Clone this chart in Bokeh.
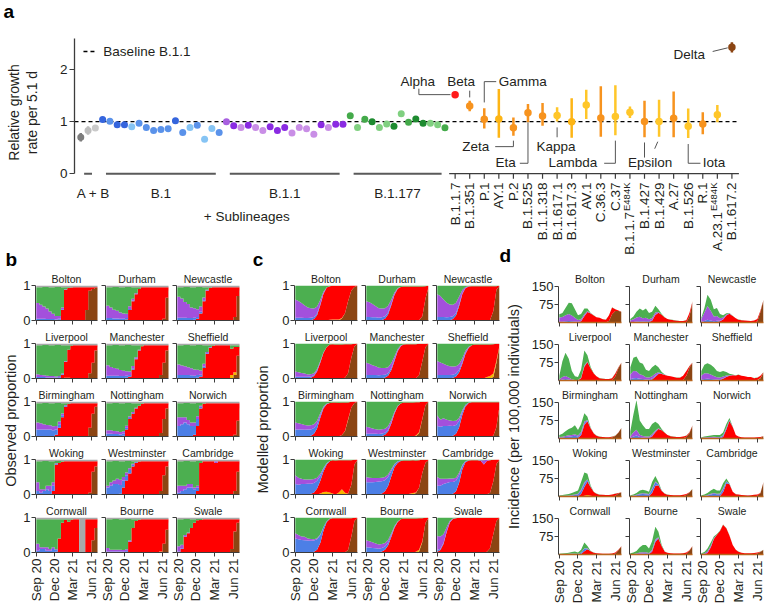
import math
import numpy as np
from bokeh.plotting import figure
from bokeh.models import ColumnDataSource, LabelSet, FixedTicker, Range1d
from bokeh.layouts import column, row
from bokeh.embed import file_html
from bokeh.resources import INLINE
from bokeh.core.properties import value

FONT = "Liberation Sans"
TXT = "#231f20"
AX = "#3c3c3c"

# ---------------- panel a data ----------------
SUB_GROUPS = ["A + B", "B.1", "B.1.1", "B.1.177"]
SUB_COUNTS = [3, 17, 17, 14]
SUB_GROWTH = [0.70, 0.83, 0.88,
              1.04, 1.01, 0.94, 0.94, 0.90, 0.97, 0.89, 0.83, 0.85, 0.865, 1.02, 0.79, 0.89, 0.93, 0.66, 0.87, 0.79,
              1.00, 0.92, 0.89, 0.93, 0.89, 0.83, 0.90, 0.83, 0.89, 0.78, 0.89, 0.865, 0.76, 0.94, 0.89, 0.95, 0.95,
              1.115, 0.89, 1.045, 1.00, 0.89, 0.955, 0.91, 1.15, 0.99, 1.05, 0.97, 0.97, 0.94, 0.885]
AB_ERR = [0.08, 0.08, 0.04]
SUB_SHADE = [0, 1, 2,
             0, 1, 0, 0, 2, 1, 1, 1, 1, 1, 0, 1, 2, 1, 2, 2, 1,
             1, 0, 2, 0, 2, 2, 0, 0, 0, 2, 2, 2, 2, 0, 2, 0, 0,
             1, 2, 1, 0, 2, 2, 0, 2, 1, 0, 0, 2, 2, 1]
GROUP_SHADES = [["#7d7d7d", "#bdbdbd", "#c9c9c9"],
                ["#3565dd", "#5a92ea", "#86c4f4"],
                ["#8a2be2", "#a860e0", "#c98ee6"],
                ["#1e8b30", "#44aa4a", "#80d080"]]

NAMED = ["B.1.1.7", "B.1.351", "P.1", "AY.1", "P.2", "B.1.525", "B.1.1.318", "B.1.617.1", "B.1.617.3", "AV.1",
         "C.36.3", "C.37", "B.1.1.7", "B.1.427", "B.1.429", "A.27", "B.1.526", "R.1", "A.23.1", "B.1.617.2"]
NAMED_SUP = ["", "", "", "", "", "", "", "", "", "", "", "", "E484K", "", "", "", "", "", "E484K", ""]
NAMED_GROWTH = [1.52, 1.30, 1.045, 1.05, 0.885, 1.17, 1.11, 1.12, 1.00, 1.32,
                1.07, 1.10, 1.18, 1.005, 1.005, 1.065, 0.91, 0.955, 1.135, 2.43]
NAMED_LO = [1.50, 1.20, 0.87, 0.69, 0.73, 0.99, 0.92, 1.005, 0.69, 1.05,
            0.71, 0.74, 1.07, 0.70, 0.71, 0.70, 0.685, 0.76, 0.99, 2.33]
NAMED_HI = [1.54, 1.40, 1.26, 1.63, 1.08, 1.34, 1.36, 1.275, 1.45, 1.615,
            1.68, 1.70, 1.29, 1.40, 1.42, 1.58, 1.255, 1.18, 1.32, 2.525]
NAMED_TONE = ["alpha", "orange", "orange", "gold", "orange", "orange", "orange", "yellow", "gold", "yellow",
              "orange", "yellow", "yellow", "orange", "yellow", "orange", "yellow", "orange", "yellow", "delta"]
TONE_COLOR = {"alpha": "#ff1a1a", "orange": "#f7931e", "gold": "#fdb515", "yellow": "#ffc629", "delta": "#8b4513"}

# ---------------- panels b-d data ----------------
CITIES = ["Bolton", "Durham", "Newcastle", "Liverpool", "Manchester", "Sheffield", "Birmingham", "Nottingham",
          "Norwich", "Woking", "Westminster", "Cambridge", "Cornwall", "Bourne", "Swale"]
# days since 1 Sep 2020
TIME_DAYS = [0, 15, 30, 46, 61, 76, 91, 106, 122, 137, 153, 168, 181, 196, 212, 227, 242, 257, 273, 288, 303]
XTICKS = [0, 91, 181, 273]
XTICK_LABELS = ["Sep 20", "Dec 20", "Mar 21", "Jun 21"]

NONE21 = [0, 0, 0, 0, 0, 0, 0, 0, 0, 0, 0, 0, 0, 0, 0, 0, 0, 0, 0, 0, 0]

# modelled proportions (panel c)
M_ALPHA = [
    [0, 0, 0, 0, 0, 0.01, 0.04, 0.15, 0.44, 0.76, 0.93, 0.96, 0.96, 0.96, 0.96, 0.92, 0.78, 0.44, 0.14, 0.04, 0.01],
    [0, 0, 0, 0, 0, 0.015, 0.05, 0.17, 0.44, 0.73, 0.91, 0.96, 0.97, 0.97, 0.97, 0.97, 0.97, 0.96, 0.85, 0.36, 0.04],
    [0, 0, 0, 0, 0.01, 0.04, 0.14, 0.41, 0.76, 0.92, 0.97, 0.98, 0.98, 0.98, 0.98, 0.98, 0.98, 0.965, 0.71, 0.1, 0.01],
    [0, 0, 0, 0, 0.007, 0.02, 0.07, 0.2, 0.46, 0.73, 0.89, 0.96, 0.97, 0.97, 0.97, 0.97, 0.96, 0.83, 0.38, 0.07, 0.01],
    [0, 0, 0, 0, 0, 0.008, 0.03, 0.08, 0.24, 0.5, 0.77, 0.91, 0.96, 0.98, 0.98, 0.98, 0.97, 0.9, 0.49, 0.1, 0.01],
    [0, 0, 0, 0, 0.007, 0.02, 0.06, 0.17, 0.42, 0.7, 0.88, 0.95, 0.97, 0.97, 0.97, 0.96, 0.93, 0.9, 0.84, 0.48, 0.05],
    [0, 0, 0, 0, 0.007, 0.02, 0.08, 0.23, 0.54, 0.8, 0.92, 0.96, 0.97, 0.97, 0.96, 0.93, 0.81, 0.48, 0.16, 0.04, 0.01],
    [0, 0, 0, 0, 0, 0.016, 0.05, 0.14, 0.37, 0.65, 0.86, 0.94, 0.97, 0.97, 0.97, 0.97, 0.95, 0.86, 0.48, 0.1, 0.01],
    [0, 0, 0, 0, 0.005, 0.02, 0.08, 0.26, 0.62, 0.86, 0.96, 0.98, 0.98, 0.98, 0.98, 0.98, 0.98, 0.98, 0.96, 0.71, 0.1],
    [0, 0, 0, 0, 0.008, 0.02, 0.06, 0.17, 0.36, 0.59, 0.78, 0.89, 0.95, 0.97, 0.92, 0.83, 0.93, 0.96, 0.7, 0.13, 0.01],
    [0, 0, 0, 0, 0.01, 0.03, 0.09, 0.24, 0.52, 0.78, 0.91, 0.96, 0.97, 0.97, 0.95, 0.93, 0.91, 0.79, 0.37, 0.08, 0.01],
    [0, 0, 0, 0, 0.005, 0.02, 0.09, 0.33, 0.72, 0.92, 0.97, 0.98, 0.98, 0.98, 0.96, 0.86, 0.96, 0.93, 0.61, 0.13, 0.01],
    [0, 0, 0, 0, 0, 0.005, 0.02, 0.08, 0.28, 0.62, 0.87, 0.96, 0.98, 0.98, 0.98, 0.98, 0.97, 0.91, 0.52, 0.09, 0.01],
    [0, 0, 0, 0, 0.01, 0.03, 0.08, 0.2, 0.45, 0.7, 0.87, 0.95, 0.97, 0.97, 0.97, 0.97, 0.95, 0.9, 0.66, 0.15, 0.01],
    [0.02, 0.07, 0.24, 0.59, 0.86, 0.96, 0.98, 0.99, 0.99, 0.99, 0.99, 0.99, 0.99, 0.99, 0.99, 0.99, 0.97, 0.87, 0.46, 0.09, 0.01],
]
M_DELTA = [
    [0, 0, 0, 0, 0, 0, 0, 0, 0, 0, 0, 0, 0, 0, 0.01, 0.06, 0.21, 0.55, 0.86, 0.96, 0.99],
    [0, 0, 0, 0, 0, 0, 0, 0, 0, 0, 0, 0, 0, 0, 0, 0, 0, 0.01, 0.12, 0.62, 0.95],
    [0, 0, 0, 0, 0, 0, 0, 0, 0, 0, 0, 0, 0, 0, 0, 0, 0, 0.015, 0.27, 0.88, 0.99],
    [0, 0, 0, 0, 0, 0, 0, 0, 0, 0, 0, 0, 0, 0, 0, 0, 0.02, 0.15, 0.6, 0.92, 0.99],
    [0, 0, 0, 0, 0, 0, 0, 0, 0, 0, 0, 0, 0, 0, 0, 0, 0.01, 0.09, 0.5, 0.89, 0.99],
    [0, 0, 0, 0, 0, 0, 0, 0, 0, 0, 0, 0, 0, 0, 0, 0, 0, 0, 0.04, 0.45, 0.92],
    [0, 0, 0, 0, 0, 0, 0, 0, 0, 0, 0, 0, 0, 0, 0.007, 0.04, 0.15, 0.47, 0.83, 0.96, 0.99],
    [0, 0, 0, 0, 0, 0, 0, 0, 0, 0, 0, 0, 0, 0, 0, 0, 0.01, 0.09, 0.5, 0.89, 0.99],
    [0, 0, 0, 0, 0, 0, 0, 0, 0, 0, 0, 0, 0, 0, 0, 0, 0, 0, 0.02, 0.27, 0.88],
    [0, 0, 0, 0, 0, 0, 0, 0, 0, 0, 0, 0, 0, 0, 0, 0, 0, 0.02, 0.28, 0.86, 0.99],
    [0, 0, 0, 0, 0, 0, 0, 0, 0, 0, 0, 0, 0, 0, 0, 0.006, 0.04, 0.19, 0.62, 0.91, 0.98],
    [0, 0, 0, 0, 0, 0, 0, 0, 0, 0, 0, 0, 0, 0, 0, 0, 0.005, 0.05, 0.38, 0.87, 0.99],
    [0, 0, 0, 0, 0, 0, 0, 0, 0, 0, 0, 0, 0, 0, 0, 0, 0.007, 0.07, 0.46, 0.9, 0.99],
    [0, 0, 0, 0, 0, 0, 0, 0, 0, 0, 0, 0, 0, 0, 0, 0, 0, 0.03, 0.3, 0.84, 0.99],
    [0, 0, 0, 0, 0, 0, 0, 0, 0, 0, 0, 0, 0, 0, 0, 0, 0.02, 0.12, 0.53, 0.9, 0.99],
]
M_OTHER = [
    [0, 0, 0, 0, 0, 0, 0, 0, 0, 0, 0.01, 0.02, 0.03, 0.03, 0.02, 0.01, 0, 0, 0, 0, 0],
    NONE21,
    NONE21,
    [0, 0, 0, 0, 0, 0, 0, 0, 0, 0, 0.01, 0.015, 0.01, 0, 0, 0, 0, 0, 0, 0, 0],
    [0, 0, 0, 0, 0, 0, 0, 0, 0, 0, 0.01, 0.01, 0.01, 0, 0, 0, 0, 0, 0, 0, 0],
    [0, 0, 0, 0, 0, 0, 0, 0, 0, 0, 0, 0, 0, 0, 0, 0.01, 0.04, 0.07, 0.1, 0.06, 0.02],
    [0, 0, 0, 0, 0, 0, 0, 0, 0, 0, 0, 0, 0, 0, 0, 0, 0.01, 0.02, 0, 0, 0],
    [0, 0, 0, 0, 0, 0, 0, 0, 0, 0, 0, 0, 0, 0, 0, 0, 0.02, 0.03, 0.01, 0, 0],
    NONE21,
    [0, 0, 0, 0, 0, 0, 0, 0, 0.03, 0.07, 0.08, 0.06, 0.03, 0, 0.06, 0.15, 0.05, 0, 0, 0, 0],
    [0, 0, 0, 0, 0, 0, 0, 0, 0, 0, 0, 0, 0, 0, 0.02, 0.04, 0.02, 0, 0, 0, 0],
    NONE21,
    NONE21,
    [0, 0, 0, 0, 0, 0, 0, 0, 0, 0, 0, 0, 0, 0, 0, 0, 0.02, 0.05, 0.02, 0, 0],
    NONE21,
]
M_B1 = [
    [0.08, 0.08, 0.08, 0.07, 0.07, 0.07, 0.06, 0.05, 0.03, 0.01, 0, 0, 0, 0, 0, 0, 0, 0, 0, 0, 0],
    [0.1, 0.1, 0.09, 0.09, 0.08, 0.08, 0.07, 0.06, 0.04, 0.02, 0.01, 0, 0, 0, 0, 0, 0, 0, 0, 0, 0],
    [0.1, 0.1, 0.1, 0.09, 0.09, 0.08, 0.07, 0.05, 0.02, 0.01, 0, 0, 0, 0, 0, 0, 0, 0, 0, 0, 0],
    [0.05, 0.05, 0.05, 0.05, 0.04, 0.04, 0.03, 0.03, 0.02, 0.01, 0, 0, 0, 0, 0, 0, 0, 0, 0, 0, 0],
    [0.1, 0.1, 0.1, 0.1, 0.09, 0.09, 0.08, 0.07, 0.06, 0.04, 0.02, 0.01, 0, 0, 0, 0, 0, 0, 0, 0, 0],
    [0.1, 0.1, 0.1, 0.1, 0.09, 0.09, 0.08, 0.07, 0.05, 0.03, 0.01, 0, 0, 0, 0, 0, 0, 0, 0, 0, 0],
    [0.2, 0.2, 0.2, 0.19, 0.19, 0.18, 0.16, 0.12, 0.07, 0.03, 0.01, 0, 0, 0, 0, 0, 0, 0, 0, 0, 0],
    [0.08, 0.08, 0.08, 0.08, 0.07, 0.07, 0.06, 0.05, 0.04, 0.02, 0.01, 0, 0, 0, 0, 0, 0, 0, 0, 0, 0],
    [0.3, 0.28, 0.3, 0.3, 0.3, 0.28, 0.25, 0.18, 0.09, 0.03, 0.01, 0, 0, 0, 0, 0, 0, 0, 0, 0, 0],
    [0.3, 0.28, 0.3, 0.3, 0.3, 0.29, 0.27, 0.22, 0.14, 0.07, 0.03, 0.01, 0, 0, 0, 0, 0, 0, 0, 0, 0],
    [0.35, 0.35, 0.35, 0.36, 0.36, 0.35, 0.32, 0.26, 0.16, 0.07, 0.03, 0.01, 0, 0, 0, 0, 0, 0, 0, 0, 0],
    [0.25, 0.25, 0.3, 0.33, 0.35, 0.34, 0.3, 0.22, 0.1, 0.03, 0.01, 0, 0, 0, 0, 0, 0, 0, 0, 0, 0],
    [0.4, 0.38, 0.36, 0.35, 0.34, 0.33, 0.32, 0.3, 0.22, 0.1, 0.03, 0.01, 0, 0, 0, 0, 0, 0, 0, 0, 0],
    [0.15, 0.14, 0.13, 0.12, 0.1, 0.1, 0.09, 0.08, 0.05, 0.03, 0.01, 0, 0, 0, 0, 0, 0, 0, 0, 0, 0],
    [0.05, 0.04, 0.03, 0.02, 0.01, 0, 0, 0, 0, 0, 0, 0, 0, 0, 0, 0, 0, 0, 0, 0, 0],
]
M_B11 = [
    [0.52, 0.48, 0.42, 0.36, 0.3, 0.27, 0.24, 0.2, 0.12, 0.05, 0.01, 0, 0, 0, 0, 0, 0, 0, 0, 0, 0],
    [0.45, 0.42, 0.38, 0.32, 0.27, 0.25, 0.23, 0.19, 0.12, 0.05, 0.01, 0, 0, 0, 0, 0, 0, 0, 0, 0, 0],
    [0.65, 0.6, 0.5, 0.42, 0.36, 0.33, 0.3, 0.22, 0.09, 0.03, 0.01, 0, 0, 0, 0, 0, 0, 0, 0, 0, 0],
    [0.15, 0.13, 0.11, 0.09, 0.07, 0.06, 0.05, 0.04, 0.03, 0.01, 0, 0, 0, 0, 0, 0, 0, 0, 0, 0, 0],
    [0.35, 0.32, 0.28, 0.25, 0.22, 0.2, 0.19, 0.17, 0.14, 0.09, 0.04, 0.02, 0, 0, 0, 0, 0, 0, 0, 0, 0],
    [0.4, 0.36, 0.32, 0.28, 0.25, 0.23, 0.21, 0.17, 0.11, 0.06, 0.02, 0, 0, 0, 0, 0, 0, 0, 0, 0, 0],
    [0.2, 0.18, 0.16, 0.14, 0.12, 0.12, 0.11, 0.1, 0.06, 0.03, 0.01, 0, 0, 0, 0, 0, 0, 0, 0, 0, 0],
    [0.2, 0.18, 0.15, 0.13, 0.12, 0.12, 0.11, 0.1, 0.07, 0.04, 0.01, 0, 0, 0, 0, 0, 0, 0, 0, 0, 0],
    [0.3, 0.2, 0.22, 0.18, 0.15, 0.14, 0.12, 0.09, 0.05, 0.02, 0, 0, 0, 0, 0, 0, 0, 0, 0, 0, 0],
    [0.25, 0.2, 0.15, 0.13, 0.12, 0.12, 0.11, 0.09, 0.06, 0.03, 0.01, 0, 0, 0, 0, 0, 0, 0, 0, 0, 0],
    [0.15, 0.13, 0.12, 0.11, 0.1, 0.1, 0.09, 0.07, 0.05, 0.02, 0.01, 0, 0, 0, 0, 0, 0, 0, 0, 0, 0],
    [0.25, 0.2, 0.15, 0.12, 0.1, 0.1, 0.09, 0.07, 0.03, 0.01, 0, 0, 0, 0, 0.02, 0.12, 0.03, 0, 0, 0, 0],
    [0.15, 0.12, 0.1, 0.1, 0.06, 0.05, 0.04, 0.03, 0.02, 0.01, 0, 0, 0, 0, 0, 0, 0, 0, 0, 0, 0],
    [0.2, 0.18, 0.16, 0.14, 0.12, 0.11, 0.1, 0.08, 0.05, 0.03, 0.01, 0, 0, 0, 0, 0, 0, 0, 0, 0, 0],
    [0.4, 0.35, 0.25, 0.12, 0.04, 0.01, 0, 0, 0, 0, 0, 0, 0, 0, 0, 0, 0, 0, 0, 0, 0],
]

# observed proportions (panel b)
O_ALPHA = [
    [0, 0, 0, 0, 0, 0, 0, 0.02, 0.3, 0.88, 0.93, 0.94, 0.95, 0.95, 0.95, 0.95, 0.65, 0.1, 0.05, 0.02, 0],
    [0, 0, 0, 0, 0, 0, 0.03, 0.3, 0.55, 0.75, 0.9, 0.95, 0.95, 0.95, 0.95, 0.95, 0.95, 0.95, 0.9, 0.3, 0.1],
    [0, 0, 0, 0, 0, 0.02, 0.05, 0.2, 0.55, 0.85, 0.93, 0.95, 0.95, 0.95, 0.95, 0.95, 0.95, 0.95, 0.85, 0.25, 0.1],
    [0, 0, 0, 0, 0, 0, 0, 0.02, 0.1, 0.45, 0.8, 0.93, 0.95, 0.95, 0.95, 0.95, 0.95, 0.8, 0.5, 0.15, 0.05],
    [0, 0, 0, 0, 0, 0, 0.02, 0.05, 0.25, 0.55, 0.8, 0.92, 0.95, 0.95, 0.95, 0.95, 0.95, 0.85, 0.5, 0.15, 0.05],
    [0, 0, 0, 0, 0, 0, 0.02, 0.05, 0.3, 0.7, 0.88, 0.93, 0.95, 0.95, 0.95, 0.95, 0.95, 0.75, 0.72, 0.25, 0.1],
    [0, 0, 0, 0, 0, 0, 0.05, 0.25, 0.55, 0.85, 0.93, 0.95, 0.95, 0.95, 0.95, 0.95, 0.95, 0.7, 0.3, 0.1, 0.05],
    [0, 0, 0, 0, 0, 0.02, 0.2, 0.5, 0.65, 0.8, 0.88, 0.93, 0.95, 0.95, 0.95, 0.95, 0.95, 0.85, 0.45, 0.15, 0.05],
    [0, 0, 0, 0, 0, 0.05, 0.3, 0.8, 0.93, 0.95, 0.95, 0.95, 0.95, 0.95, 0.95, 0.95, 0.95, 0.95, 0.9, 0.5, 0.15],
    [0, 0, 0, 0, 0, 0.1, 0.85, 0.9, 0.93, 0.95, 0.95, 0.95, 0.95, 0.95, 0.95, 0.95, 0.95, 0.9, 0.3, 0.15, 0.1],
    [0, 0, 0, 0, 0.02, 0.2, 0.4, 0.6, 0.8, 0.9, 0.94, 0.95, 0.95, 0.95, 0.95, 0.95, 0.95, 0.85, 0.4, 0.15, 0.05],
    [0, 0, 0, 0, 0, 0, 0.1, 0.9, 0.95, 0.95, 0.95, 0.95, 0.9, 0.95, 0.95, 0.95, 0.95, 0.95, 0.85, 0.3, 0.1],
    [0, 0, 0, 0, 0, 0, 0.02, 0.4, 0.85, 0.93, 0.88, 0.93, 0.95, 0.95, 0, 0, 0.95, 0.95, 0.6, 0.25, 0.1],
    [0, 0, 0, 0, 0, 0, 0.02, 0.3, 0.7, 0.9, 0.93, 0.95, 0.95, 0.95, 0.95, 0.95, 0.95, 0.92, 0.7, 0.3, 0.1],
    [0, 0.1, 0.45, 0.55, 0.7, 0.85, 0.92, 0.93, 0.95, 0.95, 0.95, 0.95, 0.95, 0.95, 0.95, 0.95, 0.95, 0.85, 0.35, 0.1, 0.05],
]
O_DELTA = [
    [0, 0, 0, 0, 0, 0, 0, 0, 0, 0, 0, 0, 0, 0, 0, 0, 0.3, 0.85, 0.9, 0.93, 0.95],
    [0, 0, 0, 0, 0, 0, 0, 0, 0, 0, 0, 0, 0, 0, 0, 0, 0, 0, 0.05, 0.65, 0.85],
    [0, 0, 0, 0, 0, 0, 0, 0, 0, 0, 0, 0, 0, 0, 0, 0, 0, 0, 0.1, 0.7, 0.85],
    [0, 0, 0, 0, 0, 0, 0, 0, 0, 0, 0, 0, 0, 0, 0, 0, 0, 0.15, 0.45, 0.8, 0.9],
    [0, 0, 0, 0, 0, 0, 0, 0, 0, 0, 0, 0, 0, 0, 0, 0, 0, 0.1, 0.45, 0.8, 0.9],
    [0, 0, 0, 0, 0, 0, 0, 0, 0, 0, 0, 0, 0, 0, 0, 0, 0, 0, 0.1, 0.65, 0.85],
    [0, 0, 0, 0, 0, 0, 0, 0, 0, 0, 0, 0, 0, 0, 0, 0, 0, 0.25, 0.65, 0.85, 0.9],
    [0, 0, 0, 0, 0, 0, 0, 0, 0, 0, 0, 0, 0, 0, 0, 0, 0, 0.1, 0.5, 0.8, 0.9],
    [0, 0, 0, 0, 0, 0, 0, 0, 0, 0, 0, 0, 0, 0, 0, 0, 0, 0, 0.05, 0.45, 0.8],
    [0, 0, 0, 0, 0, 0, 0, 0, 0, 0, 0, 0, 0, 0, 0, 0, 0, 0.05, 0.65, 0.8, 0.85],
    [0, 0, 0, 0, 0, 0, 0, 0, 0, 0, 0, 0, 0, 0, 0, 0, 0, 0.1, 0.55, 0.8, 0.9],
    [0, 0, 0, 0, 0, 0, 0, 0, 0, 0, 0, 0, 0, 0, 0, 0, 0, 0, 0.1, 0.65, 0.85],
    [0, 0, 0, 0, 0, 0, 0, 0, 0, 0, 0, 0, 0, 0, 0, 0, 0, 0, 0.35, 0.7, 0.85],
    [0, 0, 0, 0, 0, 0, 0, 0, 0, 0, 0, 0, 0, 0, 0, 0, 0, 0, 0.25, 0.65, 0.85],
    [0, 0, 0, 0, 0, 0, 0, 0, 0, 0, 0, 0, 0, 0, 0, 0, 0, 0.1, 0.6, 0.85, 0.9],
]
O_OTHER = [
    NONE21, NONE21, NONE21,
    [0, 0, 0, 0, 0, 0, 0, 0, 0, 0.02, 0.02, 0, 0, 0, 0, 0, 0, 0, 0, 0, 0],
    NONE21,
    [0, 0, 0, 0, 0, 0, 0, 0, 0, 0, 0, 0, 0, 0, 0, 0, 0, 0.1, 0.08, 0, 0],
    NONE21, NONE21, NONE21, NONE21, NONE21, NONE21, NONE21,
    [0, 0, 0, 0, 0, 0, 0, 0, 0, 0, 0, 0, 0, 0, 0, 0, 0, 0.03, 0, 0, 0],
    NONE21,
]
O_B1 = [
    [0.05, 0.05, 0.05, 0.04, 0.04, 0.04, 0.03, 0.03, 0.02, 0, 0, 0, 0, 0, 0, 0, 0, 0, 0, 0, 0],
    [0.07, 0.07, 0.06, 0.06, 0.05, 0.05, 0.04, 0.03, 0.02, 0.01, 0, 0, 0, 0, 0, 0, 0, 0, 0, 0, 0],
    [0.08, 0.08, 0.08, 0.07, 0.07, 0.06, 0.05, 0.05, 0.03, 0.01, 0, 0, 0, 0, 0, 0, 0, 0, 0, 0, 0],
    [0.04, 0.04, 0.04, 0.03, 0.03, 0.03, 0.03, 0.02, 0.02, 0.01, 0, 0, 0, 0, 0, 0, 0, 0, 0, 0, 0],
    [0.08, 0.08, 0.08, 0.08, 0.07, 0.07, 0.06, 0.05, 0.04, 0.02, 0.01, 0, 0, 0, 0, 0, 0, 0, 0, 0, 0],
    [0.1, 0.1, 0.1, 0.1, 0.09, 0.08, 0.08, 0.06, 0.04, 0.02, 0.01, 0, 0, 0, 0, 0, 0, 0, 0, 0, 0],
    [0.2, 0.2, 0.2, 0.2, 0.2, 0.18, 0.15, 0.1, 0.06, 0.02, 0, 0, 0, 0, 0, 0, 0, 0, 0, 0, 0],
    [0.08, 0.08, 0.07, 0.07, 0.06, 0.06, 0.05, 0.03, 0.02, 0.01, 0, 0, 0, 0, 0, 0, 0, 0, 0, 0, 0],
    [0.3, 0.35, 0.4, 0.35, 0.3, 0.25, 0.2, 0.05, 0, 0, 0, 0, 0, 0, 0, 0, 0, 0, 0, 0, 0],
    [0.1, 0.05, 0.1, 0.15, 0.1, 0.15, 0.02, 0, 0, 0, 0, 0, 0, 0, 0, 0, 0, 0, 0, 0, 0],
    [0.2, 0.25, 0.3, 0.3, 0.25, 0.2, 0.15, 0.1, 0.05, 0.02, 0, 0, 0, 0, 0, 0, 0, 0, 0, 0, 0],
    [0.05, 0.1, 0.15, 0.2, 0.2, 0.15, 0.1, 0, 0, 0, 0, 0, 0, 0, 0, 0, 0, 0, 0, 0, 0],
    [0.05, 0.1, 0.1, 0.05, 0.05, 0.1, 0.05, 0, 0, 0, 0, 0, 0, 0, 0, 0, 0, 0, 0, 0, 0],
    [0.03, 0.03, 0.03, 0.03, 0.03, 0.02, 0.02, 0.01, 0, 0, 0, 0, 0, 0, 0, 0, 0, 0, 0, 0, 0],
    [0.03, 0.02, 0, 0, 0, 0, 0, 0, 0, 0, 0, 0, 0, 0, 0, 0, 0, 0, 0, 0, 0],
]
O_B11 = [
    [0.45, 0.4, 0.35, 0.3, 0.22, 0.15, 0.1, 0.08, 0.05, 0.01, 0, 0, 0, 0, 0, 0, 0, 0, 0, 0, 0],
    [0.35, 0.3, 0.25, 0.22, 0.18, 0.15, 0.12, 0.08, 0.05, 0.02, 0, 0, 0, 0, 0, 0, 0, 0, 0, 0, 0],
    [0.6, 0.55, 0.45, 0.4, 0.3, 0.27, 0.22, 0.15, 0.08, 0.02, 0, 0, 0, 0, 0, 0, 0, 0, 0, 0, 0],
    [0.08, 0.06, 0.05, 0.05, 0.04, 0.04, 0.03, 0.03, 0.02, 0.01, 0, 0, 0, 0, 0, 0, 0, 0, 0, 0, 0],
    [0.3, 0.25, 0.22, 0.2, 0.17, 0.15, 0.13, 0.1, 0.07, 0.04, 0.01, 0, 0, 0, 0, 0, 0, 0, 0, 0, 0],
    [0.3, 0.27, 0.25, 0.22, 0.2, 0.18, 0.15, 0.12, 0.08, 0.04, 0.01, 0, 0, 0, 0, 0, 0, 0, 0, 0, 0],
    [0.2, 0.18, 0.15, 0.13, 0.12, 0.11, 0.1, 0.08, 0.05, 0.02, 0, 0, 0, 0, 0, 0, 0, 0, 0, 0, 0],
    [0.1, 0.1, 0.09, 0.08, 0.07, 0.07, 0.06, 0.04, 0.03, 0.01, 0, 0, 0, 0, 0, 0, 0, 0, 0, 0, 0],
    [0.25, 0.2, 0.15, 0.12, 0.1, 0.1, 0.08, 0.03, 0, 0, 0, 0, 0, 0, 0, 0, 0, 0, 0, 0, 0],
    [0.25, 0.1, 0.05, 0.1, 0.15, 0.1, 0.02, 0, 0, 0, 0, 0, 0, 0, 0, 0, 0, 0, 0, 0, 0],
    [0.05, 0.1, 0.1, 0.15, 0.15, 0.1, 0.08, 0.05, 0.03, 0.01, 0, 0, 0, 0, 0, 0, 0, 0, 0, 0, 0],
    [0.2, 0.15, 0.1, 0.1, 0.1, 0.05, 0.05, 0, 0, 0, 0, 0, 0.05, 0, 0, 0, 0, 0, 0, 0, 0],
    [0.2, 0.05, 0.05, 0.1, 0.05, 0.05, 0.02, 0, 0, 0, 0, 0, 0, 0, 0, 0, 0, 0, 0, 0, 0],
    [0.1, 0.05, 0.05, 0.05, 0.05, 0.05, 0.05, 0.03, 0, 0, 0, 0, 0, 0, 0, 0, 0, 0, 0, 0, 0],
    [0.15, 0.1, 0.05, 0.02, 0, 0, 0, 0, 0, 0, 0, 0, 0, 0, 0, 0, 0, 0, 0, 0, 0],
]
GRAY_OBS = [0.05, 0.05, 0.04, 0.04, 0.05, 0.05, 0.04, 0.04, 0.05, 0.05, 0.05,
            0.05, 0.05, 0.05, 0.05, 0.05, 0.05, 0.05, 0.05, 0.05, 0.05]
GRAY_OBS_CORNWALL = [0.05, 0.05, 0.05, 0.05, 0.05, 0.05, 0.05, 0.05, 0.05, 0.05, 0.05,
                     0.05, 0.05, 0.05, 1.0, 1.0, 0.05, 0.05, 0.05, 0.05, 0.05]

# total incidence per 100,000 (panel d)
D_TOTAL = [
    [34, 40, 60, 82, 80, 55, 30, 35, 58, 58, 40, 30, 22, 20, 14, 12, 30, 63, 55, 50, 45],
    [15, 25, 45, 58, 50, 58, 40, 45, 70, 55, 35, 22, 15, 12, 10, 8, 6, 6, 10, 40, 88],
    [20, 60, 115, 95, 55, 60, 35, 30, 38, 40, 28, 18, 12, 10, 8, 7, 6, 8, 15, 50, 95],
    [20, 80, 115, 90, 40, 18, 15, 45, 125, 105, 55, 30, 18, 10, 8, 6, 6, 10, 30, 55, 75],
    [55, 95, 100, 75, 70, 45, 40, 55, 65, 55, 35, 25, 20, 18, 15, 12, 12, 20, 40, 60, 75],
    [40, 65, 72, 65, 55, 40, 35, 40, 35, 28, 25, 22, 25, 20, 18, 15, 15, 10, 12, 20, 35],
    [15, 20, 30, 40, 45, 55, 35, 60, 105, 90, 45, 22, 12, 8, 6, 5, 5, 8, 12, 25, 45],
    [30, 100, 160, 75, 55, 40, 40, 60, 70, 60, 40, 25, 15, 10, 8, 6, 6, 8, 12, 25, 55],
    [5, 8, 10, 12, 15, 15, 15, 25, 60, 85, 50, 15, 8, 5, 4, 4, 4, 4, 5, 6, 10],
    [5, 6, 8, 10, 15, 20, 25, 60, 100, 95, 45, 20, 12, 8, 7, 6, 6, 8, 12, 15, 18],
    [5, 8, 15, 25, 28, 25, 20, 60, 85, 60, 25, 12, 8, 6, 5, 5, 5, 7, 10, 18, 32],
    [5, 8, 15, 25, 32, 25, 25, 55, 75, 55, 20, 10, 8, 6, 5, 5, 5, 7, 8, 15, 60],
    [3, 4, 5, 7, 10, 12, 8, 20, 50, 35, 15, 8, 5, 4, 3, 3, 3, 4, 8, 20, 35],
    [5, 8, 15, 30, 40, 40, 25, 55, 115, 95, 40, 12, 7, 5, 4, 4, 4, 5, 8, 18, 35],
    [5, 10, 25, 50, 75, 85, 100, 125, 110, 80, 40, 20, 12, 7, 5, 5, 5, 6, 8, 12, 20],
]

LAYER_COLORS = ["#8b4513", "#f6b400", "#ff0000", "#4c7fe6", "#a350dc", "#4caf50", "#a8a8a8"]

# ---------------- panel a ----------------
UNIT = 14.632          # px per named-lineage step
P0 = 173.17            # page y of growth 0
TOP_H = 270


def px_to_x(px):
    return (px - 77.3) / UNIT


def py_to_y(py):
    return (P0 - py) / 52.0


def add_labels(p, xs, ys, texts, size="13.5px", align="center", baseline="middle", angle=0.0, color=TXT,
               style="normal"):
    src = ColumnDataSource(dict(x=list(xs), y=list(ys), text=list(texts)))
    ls = LabelSet(x="x", y="y", text="text", source=src, angle=angle, text_align=align, text_baseline=baseline,
                  text_font=value(FONT), text_font_size=size, text_color=color, text_font_style=style)
    p.add_layout(ls)


# left strip holding the y-axis title and the letters a, b (pixel coordinates, y up)
fa_left = figure(width=56, height=TOP_H, x_range=Range1d(0, 56), y_range=Range1d(0, TOP_H),
                 output_backend="svg", toolbar_location=None, x_axis_location=None, y_axis_location=None,
                 min_border_left=0, min_border_right=0, min_border_top=0, min_border_bottom=0)
fa_left.grid.visible = False
fa_left.outline_line_color = None
add_labels(fa_left, [13, 31], [TOP_H - 112] * 2, ["Relative growth", "rate per 5.1 d"], size="14px",
           angle=math.pi / 2)
add_labels(fa_left, [3], [TOP_H - 0.5], ["a"], size="19px", align="left", baseline="top", style="bold",
           color="black")
add_labels(fa_left, [5], [1.0], ["b"], size="19px", align="left", baseline="bottom", style="bold",
           color="black")

XA0 = px_to_x(71)
fa = figure(width=709, height=TOP_H, x_range=Range1d(XA0, XA0 + 674 / UNIT),
            y_range=Range1d(py_to_y(TOP_H), py_to_y(0)),
            output_backend="svg", toolbar_location=None, x_axis_location=None,
            min_border_left=15, min_border_right=20, min_border_top=0, min_border_bottom=0)
fa.grid.visible = False
fa.outline_line_color = None

ya = fa.yaxis[0]
ya.ticker = FixedTicker(ticks=[0, 1, 2])
ya.bounds = (0, 2.6)
ya.major_tick_out = 5
ya.major_tick_in = 0
ya.minor_tick_line_color = None
ya.axis_line_color = AX
ya.major_tick_line_color = AX
ya.axis_line_width = 1.3
ya.major_label_text_font = FONT
ya.major_label_text_font_size = "13.5px"
ya.major_label_text_color = TXT
ya.major_label_standoff = 2

n_sub = sum(SUB_COUNTS)
sub_x = [0.5 * i for i in range(n_sub)]
named_x = [sub_x[-1] + 0.7 + j for j in range(len(NAMED))]

# baseline
fa.segment(x0=[XA0], y0=[1.0], x1=[named_x[-1] + 0.42], y1=[1.0], line_color="black", line_width=1.3,
           line_dash="4 3")
# legend
fa.segment(x0=[px_to_x(80)], y0=[py_to_y(51)], x1=[px_to_x(94)], y1=[py_to_y(51)], line_color="black",
           line_width=1.3, line_dash="4 3")
add_labels(fa, [px_to_x(100)], [py_to_y(51)], ["Baseline B.1.1"], align="left")

# sublineage points
sub_colors = []
start = 0
group_spans = []
for g, cnt in enumerate(SUB_COUNTS):
    group_spans.append((sub_x[start], sub_x[start + cnt - 1]))
    for k in range(cnt):
        sub_colors.append(GROUP_SHADES[g][SUB_SHADE[start + k]])
    start += cnt

ab_x = sub_x[:3]
fa.segment(x0=ab_x, y0=[SUB_GROWTH[i] - AB_ERR[i] for i in range(3)], x1=ab_x,
           y1=[SUB_GROWTH[i] + AB_ERR[i] for i in range(3)], line_color=sub_colors[:3], line_width=2.5)
fa.scatter(x=sub_x, y=SUB_GROWTH, size=7, fill_color=sub_colors, line_color=None)

# named lineages
named_colors = [TONE_COLOR[t] for t in NAMED_TONE]
fa.segment(x0=named_x, y0=NAMED_LO, x1=named_x, y1=NAMED_HI, line_color=named_colors, line_width=2.5)
fa.scatter(x=named_x, y=NAMED_GROWTH, size=7.5, fill_color=named_colors, line_color=None)

# group underlines, the named-lineage axis line and its ticks
ux0 = [a + 0.23 for a, b in group_spans]
ux1 = [b - 0.23 for a, b in group_spans]
fa.segment(x0=ux0, y0=[0] * 4, x1=ux1, y1=[0] * 4, line_color="#5a5a5a", line_width=2)
fa.segment(x0=[named_x[0] - 0.41], y0=[0], x1=[named_x[-1] + 0.48], y1=[0], line_color=AX, line_width=1.4)
fa.segment(x0=named_x, y0=[0] * len(named_x), x1=named_x, y1=[-5 / 52.0] * len(named_x), line_color=AX,
           line_width=1.2)

# group names (first one nudged right so it stays clear of the axis)
grp_x = [(a + b) / 2 for a, b in group_spans]
grp_x[0] = max(grp_x[0], px_to_x(90))
add_labels(fa, grp_x, [py_to_y(192.5)] * 4, SUB_GROUPS)
add_labels(fa, [px_to_x(244)], [py_to_y(215.5)], ["+ Sublineages"])

# named tick labels (rotated), with superscripts
main_y = [py_to_y(182) if s == "" else py_to_y(211.5) for s in NAMED_SUP]
add_labels(fa, named_x, main_y, NAMED, align="right", angle=math.pi / 2)
sup_idx = [i for i, s in enumerate(NAMED_SUP) if s]
add_labels(fa, [named_x[i] - 0.27 for i in sup_idx], [py_to_y(182)] * len(sup_idx),
           [NAMED_SUP[i] for i in sup_idx], size="9.5px", align="right", angle=math.pi / 2)

# variant annotations
ANNOT = [  # (name, lineage index, dx, y, align)
    ("Alpha", 0, -2.56, 1.77, "center"),
    ("Beta", 1, -0.58, 1.77, "center"),
    ("Gamma", 2, 0.99, 1.77, "left"),
    ("Zeta", 4, -1.66, 0.525, "right"),
    ("Eta", 5, -0.83, 0.206, "right"),
    ("Kappa", 7, -0.07, 0.525, "center"),
    ("Lambda", 11, -1.25, 0.206, "right"),
    ("Epsilon", 13, 0.38, 0.206, "center"),
    ("Iota", 16, 1.0, 0.206, "left"),
    ("Delta", 19, -1.84, 2.30, "right"),
]
for name, k, dx, yy, al in ANNOT:
    add_labels(fa, [named_x[k] + dx], [yy], [name], align=al)

LEADERS = [
    (0, [(-2.49, 1.635), (-2.49, 1.52), (-0.32, 1.52)]),
    (1, [(0, 1.596), (0, 1.467)]),
    (2, [(0, 1.37), (0, 1.77), (0.82, 1.77)]),
    (4, [(-1.25, 0.52), (0, 0.52), (0, 0.635)]),
    (5, [(-0.56, 0.2), (0, 0.2), (0, 0.987)]),
    (7, [(0, 0.89), (0, 0.70)]),
    (11, [(-0.77, 0.2), (0, 0.2), (0, 0.635)]),
    (13, [(0, 0.60), (0, 0.31)]),
    (13, [(0.7, 0.48), (0.91, 0.615)]),
    (16, [(0, 0.57), (0, 0.2), (0.84, 0.2)]),
    (19, [(-1.32, 2.35), (-0.29, 2.42)]),
]
fa.multi_line(xs=[[named_x[k] + dx for dx, _ in pts] for k, pts in LEADERS],
              ys=[[yy for _, yy in pts] for k, pts in LEADERS], line_color="#555555", line_width=1)

# letters c and d
add_labels(fa, [px_to_x(250), px_to_x(498)], [py_to_y(269.5), py_to_y(265)], ["c", "d"], size="19px",
           align="left", baseline="bottom", style="bold", color="black")

# ---------------- panels b, c, d ----------------
LEFT_BORDER = {"b": 14, "c": 16, "d": 30}
T = np.array(TIME_DAYS, dtype=float)


def model_layers(ci):
    d = np.array(M_DELTA[ci], float)
    o = np.array(M_OTHER[ci], float)
    a = np.array(M_ALPHA[ci], float)
    b1 = np.array(M_B1[ci], float)
    b11 = np.array(M_B11[ci], float)
    b177 = np.clip(1 - (d + o + a + b1 + b11), 0, None)
    return [d, o, a, b1, b11, b177]


def obs_layers(ci):
    d = np.array(O_DELTA[ci], float)
    o = np.array(O_OTHER[ci], float)
    a = np.array(O_ALPHA[ci], float)
    b1 = np.array(O_B1[ci], float)
    b11 = np.array(O_B11[ci], float)
    g = np.array(GRAY_OBS_CORNWALL if CITIES[ci] == "Cornwall" else GRAY_OBS, float)
    b177 = np.clip(1 - (d + o + a + b1 + b11 + g), 0, None)
    return [d, o, a, b1, b11, b177, g]


def draw_stack(p, x, layers):
    cum = np.zeros(len(x))
    for arr, col in zip(layers, LAYER_COLORS):
        lo = cum.copy()
        cum = cum + arr
        p.varea(x=list(x), y1=list(lo), y2=list(cum), fill_color=col, fill_alpha=1.0)


def step_xy(layers):
    xe = list(TIME_DAYS) + [312]
    xs = []
    for i in range(len(TIME_DAYS)):
        xs += [xe[i], xe[i + 1]]
    out = []
    for arr in layers:
        v = []
        for i in range(len(TIME_DAYS)):
            v += [arr[i], arr[i]]
        out.append(np.array(v))
    return np.array(xs, float), out


def small_fig(kind, ci, r, c):
    left = LEFT_BORDER[kind] if c == 0 else 6
    right = 2
    if kind == "d":
        top, fh, bot = 13, 39, 6
    else:
        top, fh, bot = 13, 37, 8
    bottom = bot + 52 if r == 4 else bot
    yr = Range1d(0, 158) if kind == "d" else Range1d(0, 1)
    p = figure(width=left + 63 + right, height=top + fh + bottom, x_range=Range1d(-4, 303), y_range=yr,
               title=CITIES[ci], output_backend="svg", toolbar_location=None,
               min_border_left=left, min_border_right=right, min_border_top=top, min_border_bottom=bottom)
    p.title.text_font = FONT
    p.title.text_font_size = "10.5px"
    p.title.text_font_style = "normal"
    p.title.text_color = TXT
    p.title.align = "center"
    p.title.standoff = 0 if kind == "d" else 1
    p.title.offset = 0
    p.grid.visible = False
    p.outline_line_color = None

    xa_ = p.xaxis[0]
    xa_.ticker = FixedTicker(ticks=XTICKS)
    if r == 4:
        xa_.major_label_overrides = dict(zip(XTICKS, XTICK_LABELS))
        xa_.major_label_standoff = 2
    else:
        xa_.major_label_overrides = {t: "" for t in XTICKS}
        xa_.major_label_standoff = 0
    xa_.major_label_orientation = math.pi / 2
    xa_.major_label_text_font = FONT
    xa_.major_label_text_font_size = "13.5px"
    xa_.major_label_text_color = TXT
    xa_.major_tick_out = 4
    xa_.major_tick_in = 0
    xa_.minor_tick_line_color = None
    xa_.axis_line_color = "#b8651d" if kind == "d" else AX
    xa_.axis_line_width = 1.6 if kind == "d" else 1.0
    xa_.major_tick_line_color = AX

    ya_ = p.yaxis[0]
    yt = [75, 150] if kind == "d" else [0, 1]
    ya_.ticker = FixedTicker(ticks=yt)
    if kind == "d":
        ya_.bounds = (0, 151)
    if c == 0:
        ya_.major_label_overrides = {t: str(t) for t in yt}
        ya_.major_label_standoff = 1
    else:
        ya_.major_label_overrides = {t: "" for t in yt}
        ya_.major_label_standoff = 0
    ya_.major_label_text_font = FONT
    ya_.major_label_text_font_size = "13px"
    ya_.major_label_text_color = TXT
    ya_.major_tick_out = 4
    ya_.major_tick_in = 0
    ya_.minor_tick_line_color = None
    ya_.axis_line_color = AX
    ya_.major_tick_line_color = AX

    if kind == "b":
        xs, lay = step_xy(obs_layers(ci))
        draw_stack(p, xs, lay)
    elif kind == "c":
        draw_stack(p, T, model_layers(ci))
    else:
        tot = np.array(D_TOTAL[ci], float)
        draw_stack(p, T, [tot * arr for arr in model_layers(ci)])
    return p


LOW_H = 342


def label_fig(text, width, xf, yf):
    p = figure(width=width, height=LOW_H, x_range=Range1d(0, 1), y_range=Range1d(0, 1), output_backend="svg",
               toolbar_location=None, x_axis_location=None, y_axis_location=None,
               min_border_left=0, min_border_right=0, min_border_top=0, min_border_bottom=0)
    p.grid.visible = False
    p.outline_line_color = None
    p.text(x=[xf], y=[yf], text=[text], angle=math.pi / 2, text_align="center", text_baseline="middle",
           text_font=value(FONT), text_font_size="14.5px", text_color=TXT)
    return p


def panel_columns(kind):
    cols = []
    for c in range(3):
        figs = [small_fig(kind, r * 3 + c, r, c) for r in range(5)]
        cols.append(column(*figs))
    return cols


lower = row(label_fig("Observed proportion", 20, 0.5, 0.561), *panel_columns("b"),
            label_fig("Modelled proportion", 37, 0.568, 0.535), *panel_columns("c"),
            label_fig("Incidence (per 100,000 individuals)", 27, 0.48, 0.573), *panel_columns("d"))

layout = column(row(fa_left, fa), lower)
open("out.html", "w").write(file_html(layout, INLINE, title="Lineage growth"))
